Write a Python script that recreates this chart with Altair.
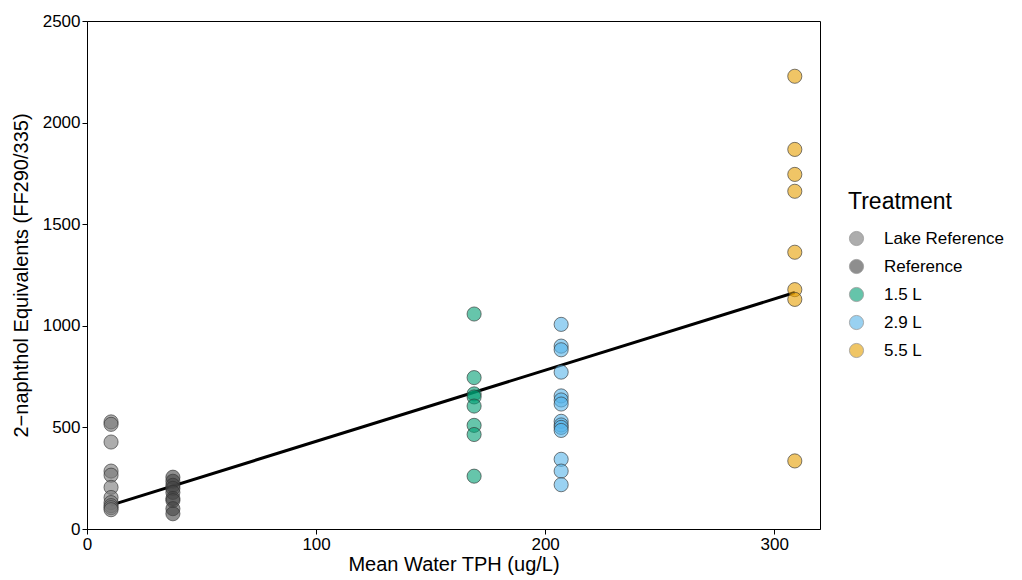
import altair as alt
import pandas as pd

treatments = ["Lake Reference", "Reference", "1.5 L", "2.9 L", "5.5 L"]
colors = ["#777777", "#444444", "#009E73", "#56B4E9", "#E69F00"]

tph_lake = 10.5
tph_ref = 37.5
tph_15 = 169
tph_29 = 207
tph_55 = 309

y_lake = [527, 515, 428, 285, 265, 205, 155, 130, 115, 105, 95]
y_ref = [255, 235, 215, 200, 180, 150, 140, 100, 75]
y_15 = [1058, 745, 665, 650, 605, 510, 465, 260]
y_29 = [1007, 900, 882, 772, 655, 635, 615, 530, 512, 500, 485, 343, 285, 218]
y_55 = [2228, 1868, 1745, 1662, 1362, 1178, 1130, 335]

rows = []
for name, x, ys in [
    ("Lake Reference", tph_lake, y_lake),
    ("Reference", tph_ref, y_ref),
    ("1.5 L", tph_15, y_15),
    ("2.9 L", tph_29, y_29),
    ("5.5 L", tph_55, y_55),
]:
    for v in ys:
        rows.append({"Treatment": name, "tph": x, "naph": v})
df = pd.DataFrame(rows)

FONT = "Liberation Sans"

xenc = alt.X("tph:Q", title="Mean Water TPH (ug/L)",
             scale=alt.Scale(domain=[0, 320], nice=False, zero=False),
             axis=alt.Axis(values=[0, 100, 200, 300], grid=False, format="d",
                           labelFlush=False))
yenc = alt.Y("naph:Q", title="2\u2212naphthol Equivalents (FF290/335)",
             scale=alt.Scale(domain=[0, 2500], nice=False),
             axis=alt.Axis(values=[0, 500, 1000, 1500, 2000, 2500], grid=False,
                           format="d", labelFlush=False))

line = alt.Chart(df).transform_regression("tph", "naph").mark_line(
    color="black", strokeWidth=3
).encode(x=xenc, y=yenc)

points = alt.Chart(df).mark_point(
    filled=True, shape="circle", size=200, fillOpacity=0.6,
    stroke="#333333", strokeWidth=0.8, strokeOpacity=0.8
).encode(
    x=xenc, y=yenc,
    color=alt.Color("Treatment:N", sort=treatments,
                    scale=alt.Scale(domain=treatments, range=colors),
                    legend=alt.Legend(title="Treatment", orient="none",
                                      legendX=761, legendY=170,
                                      symbolSize=200, symbolType="circle",
                                      symbolStrokeColor="#555555",
                                      symbolStrokeWidth=0.8,
                                      symbolOpacity=0.6,
                                      titleFontSize=23, titleFontWeight="normal",
                                      titleColor="black", titlePadding=16,
                                      labelFontSize=17, labelColor="black",
                                      rowPadding=9, labelOffset=19)),
)

chart = alt.layer(line, points).properties(
    width=733, height=508,
    autosize=alt.AutoSizeParams(type="none"),
    padding={"left": 87, "top": 21, "right": 202, "bottom": 51},
).configure(font=FONT).configure_view(
    stroke="black", strokeWidth=1
).configure_axis(
    domainColor="black", domainWidth=1, tickColor="black", tickSize=5,
    labelColor="black", labelFontSize=17, titleColor="black",
    titleFontSize=20, titleFontWeight="normal", labelPadding=2,
).configure_axisX(titlePadding=2).configure_axisY(titlePadding=11)

chart.save("out.html", embed_options={"renderer": "svg", "actions": False})
